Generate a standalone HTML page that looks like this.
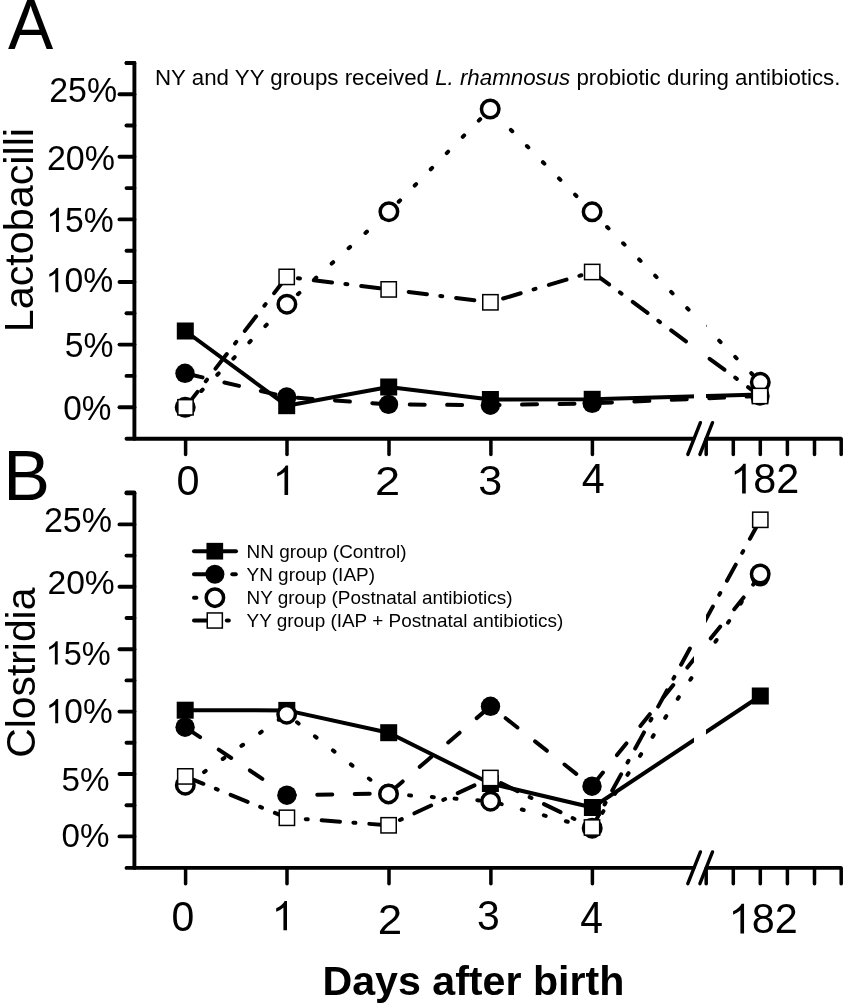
<!DOCTYPE html>
<html><head><meta charset="utf-8"><title>Lactobacilli and Clostridia</title>
<style>
html,body{margin:0;padding:0;background:#fff;}
svg{display:block;will-change:transform;}
text{font-family:"Liberation Sans", sans-serif;fill:#000;}
</style></head>
<body>
<svg width="844" height="1004" viewBox="0 0 844 1004">
<defs><clipPath id="gapclip"><rect x="0" y="0" width="694" height="1004"/><rect x="706" y="0" width="200" height="1004"/></clipPath></defs>
<!--bg-->
<path d="M126.5,63.00 L134.4,63.00 L134.4,438.7" fill="none" stroke="#000" stroke-width="3.9" stroke-linecap="round" stroke-linejoin="round"/>
<line x1="119.5" y1="407.20" x2="134.4" y2="407.20" stroke="#000" stroke-width="3.9" stroke-linecap="round"/>
<line x1="126.5" y1="375.90" x2="134.4" y2="375.90" stroke="#000" stroke-width="3.9" stroke-linecap="round"/>
<line x1="119.5" y1="344.60" x2="134.4" y2="344.60" stroke="#000" stroke-width="3.9" stroke-linecap="round"/>
<line x1="126.5" y1="313.30" x2="134.4" y2="313.30" stroke="#000" stroke-width="3.9" stroke-linecap="round"/>
<line x1="119.5" y1="282.00" x2="134.4" y2="282.00" stroke="#000" stroke-width="3.9" stroke-linecap="round"/>
<line x1="126.5" y1="250.70" x2="134.4" y2="250.70" stroke="#000" stroke-width="3.9" stroke-linecap="round"/>
<line x1="119.5" y1="219.40" x2="134.4" y2="219.40" stroke="#000" stroke-width="3.9" stroke-linecap="round"/>
<line x1="126.5" y1="188.10" x2="134.4" y2="188.10" stroke="#000" stroke-width="3.9" stroke-linecap="round"/>
<line x1="119.5" y1="156.80" x2="134.4" y2="156.80" stroke="#000" stroke-width="3.9" stroke-linecap="round"/>
<line x1="126.5" y1="125.50" x2="134.4" y2="125.50" stroke="#000" stroke-width="3.9" stroke-linecap="round"/>
<line x1="119.5" y1="94.20" x2="134.4" y2="94.20" stroke="#000" stroke-width="3.9" stroke-linecap="round"/>
<line x1="126.5" y1="62.90" x2="134.4" y2="62.90" stroke="#000" stroke-width="3.9" stroke-linecap="round"/>
<line x1="126.5" y1="438.7" x2="693.5" y2="438.7" stroke="#000" stroke-width="3.9" stroke-linecap="round"/>
<line x1="706" y1="438.7" x2="841.5" y2="438.7" stroke="#000" stroke-width="3.9"/>
<line x1="185.6" y1="438.7" x2="185.6" y2="454.5" stroke="#000" stroke-width="3.51" stroke-linecap="round"/>
<line x1="287.0" y1="438.7" x2="287.0" y2="454.5" stroke="#000" stroke-width="3.51" stroke-linecap="round"/>
<line x1="389.0" y1="438.7" x2="389.0" y2="454.5" stroke="#000" stroke-width="3.51" stroke-linecap="round"/>
<line x1="490.9" y1="438.7" x2="490.9" y2="454.5" stroke="#000" stroke-width="3.51" stroke-linecap="round"/>
<line x1="592.4" y1="438.7" x2="592.4" y2="454.5" stroke="#000" stroke-width="3.51" stroke-linecap="round"/>
<line x1="706.2" y1="438.7" x2="706.2" y2="454.5" stroke="#000" stroke-width="3.51" stroke-linecap="round"/>
<line x1="733.3" y1="438.7" x2="733.3" y2="454.5" stroke="#000" stroke-width="3.51" stroke-linecap="round"/>
<line x1="760.3" y1="438.7" x2="760.3" y2="454.5" stroke="#000" stroke-width="3.51" stroke-linecap="round"/>
<line x1="787.4" y1="438.7" x2="787.4" y2="454.5" stroke="#000" stroke-width="3.51" stroke-linecap="round"/>
<line x1="814.5" y1="438.7" x2="814.5" y2="454.5" stroke="#000" stroke-width="3.51" stroke-linecap="round"/>
<line x1="841.2" y1="438.7" x2="841.2" y2="454.5" stroke="#000" stroke-width="3.51" stroke-linecap="round"/>
<line x1="687.8" y1="454.5" x2="700.4" y2="422.7" stroke="#000" stroke-width="3.4" stroke-linecap="round"/>
<line x1="699.9" y1="454.5" x2="712.5" y2="422.7" stroke="#000" stroke-width="3.4" stroke-linecap="round"/>
<text transform="translate(49.20,102.26) scale(1,1.0130)" font-size="33.88" font-weight="normal" font-style="normal" >25%</text>
<text transform="translate(46.89,169.96) scale(1,1.0249)" font-size="34.04" font-weight="normal" font-style="normal" >20%</text>
<path d="M0.3726,0 L0.2847,0 L0.2847,0.5601 Q0.2529,0.5298 0.2012,0.4995 Q0.1494,0.4692 0.1079,0.4541 L0.1079,0.5391 Q0.1816,0.5737 0.2368,0.6230 Q0.2920,0.6724 0.3149,0.7188 L0.3726,0.7188 Z" transform="translate(46.36,232.06) scale(33.694,-33.694)" fill="#000"/>
<text transform="translate(65.10,232.06) scale(1,1.04)" font-size="33.69">5%</text>
<path d="M0.3726,0 L0.2847,0 L0.2847,0.5601 Q0.2529,0.5298 0.2012,0.4995 Q0.1494,0.4692 0.1079,0.4541 L0.1079,0.5391 Q0.1816,0.5737 0.2368,0.6230 Q0.2920,0.6724 0.3149,0.7188 L0.3726,0.7188 Z" transform="translate(45.66,292.16) scale(33.694,-33.694)" fill="#000"/>
<text transform="translate(64.40,292.16) scale(1,1.04)" font-size="33.69">0%</text>
<text transform="translate(64.85,357.45) scale(1,1.0533)" font-size="33.73" font-weight="normal" font-style="normal" >5%</text>
<text transform="translate(63.20,419.56) scale(1,1.0378)" font-size="33.34" font-weight="normal" font-style="normal" >0%</text>
<text transform="translate(176.48,495.48) scale(1,1.0298)" font-size="41.42" font-weight="normal" font-style="normal" >0</text>
<path d="M0.3726,0 L0.2847,0 L0.2847,0.5601 Q0.2529,0.5298 0.2012,0.4995 Q0.1494,0.4692 0.1079,0.4541 L0.1079,0.5391 Q0.1816,0.5737 0.2368,0.6230 Q0.2920,0.6724 0.3149,0.7188 L0.3726,0.7188 Z" transform="translate(272.76,495.10) scale(41.179,-41.179)" fill="#000"/>
<text transform="translate(374.93,495.00) scale(1,0.8963)" font-size="45.22" font-weight="normal" font-style="normal" >2</text>
<text transform="translate(478.16,495.48) scale(1,0.9914)" font-size="43.03" font-weight="normal" font-style="normal" >3</text>
<text transform="translate(581.85,493.20) scale(1,1.0317)" font-size="41.28" font-weight="normal" font-style="normal" >4</text>
<path d="M0.3726,0 L0.2847,0 L0.2847,0.5601 Q0.2529,0.5298 0.2012,0.4995 Q0.1494,0.4692 0.1079,0.4541 L0.1079,0.5391 Q0.1816,0.5737 0.2368,0.6230 Q0.2920,0.6724 0.3149,0.7188 L0.3726,0.7188 Z" transform="translate(730.33,493.48) scale(41.383,-41.383)" fill="#000"/>
<text transform="translate(753.35,493.48) scale(1,1.04)" font-size="41.38">82</text>
<g clip-path="url(#gapclip)">
<path d="M185.00,373.30 L286.70,397.00 L388.50,404.40 L490.40,405.20 L592.20,403.30 L760.00,396.00" fill="none" stroke="#000" stroke-width="4.0" stroke-linecap="round" stroke-linejoin="round" stroke-dasharray="15.0 22.45" stroke-dashoffset="-3.0"/>
<circle cx="185.00" cy="373.30" r="9.7" fill="#000"/>
<circle cx="286.70" cy="397.00" r="9.7" fill="#000"/>
<circle cx="388.50" cy="404.40" r="9.7" fill="#000"/>
<circle cx="490.40" cy="405.20" r="9.7" fill="#000"/>
<circle cx="592.20" cy="403.30" r="9.7" fill="#000"/>
<circle cx="760.00" cy="396.00" r="9.7" fill="#000"/>
<path d="M185.30,331.00 L286.70,405.70 L388.70,387.00 L490.40,399.50 L592.20,399.30 L760.00,394.50" fill="none" stroke="#000" stroke-width="4.0" stroke-linecap="round" stroke-linejoin="round"/>
<rect x="176.80" y="322.50" width="17" height="17" fill="#000"/>
<rect x="278.20" y="397.20" width="17" height="17" fill="#000"/>
<rect x="380.20" y="378.50" width="17" height="17" fill="#000"/>
<rect x="481.90" y="391.00" width="17" height="17" fill="#000"/>
<rect x="583.70" y="390.80" width="17" height="17" fill="#000"/>
<rect x="751.50" y="386.00" width="17" height="17" fill="#000"/>
<path d="M185.20,407.30 L286.90,304.20 L388.90,211.70 L490.20,109.00 L592.10,211.80 L760.30,382.30" fill="none" stroke="#000" stroke-width="4.0" stroke-linecap="round" stroke-linejoin="round" stroke-dasharray="2.0 20.8" stroke-dashoffset="-0.1"/>
<circle cx="185.20" cy="407.30" r="8.75" fill="#fff" stroke="#000" stroke-width="3.5"/>
<circle cx="286.90" cy="304.20" r="8.75" fill="#fff" stroke="#000" stroke-width="3.5"/>
<circle cx="388.90" cy="211.70" r="8.75" fill="#fff" stroke="#000" stroke-width="3.5"/>
<circle cx="490.20" cy="109.00" r="8.75" fill="#fff" stroke="#000" stroke-width="3.5"/>
<circle cx="592.10" cy="211.80" r="8.75" fill="#fff" stroke="#000" stroke-width="3.5"/>
<circle cx="760.30" cy="382.30" r="8.75" fill="#fff" stroke="#000" stroke-width="3.5"/>
<path d="M185.50,407.30 L286.70,276.90 L388.70,289.40 L490.40,302.30 L592.20,272.00 L760.00,396.00" fill="none" stroke="#000" stroke-width="4.0" stroke-linecap="round" stroke-linejoin="round" stroke-dasharray="18.4 13.45 2.0 13.95" stroke-dashoffset="-1.15"/>
<rect x="177.85" y="399.65" width="15.30" height="15.30" fill="#fff" stroke="#000" stroke-width="1.5"/>
<rect x="279.05" y="269.25" width="15.30" height="15.30" fill="#fff" stroke="#000" stroke-width="1.5"/>
<rect x="381.05" y="281.75" width="15.30" height="15.30" fill="#fff" stroke="#000" stroke-width="1.5"/>
<rect x="482.75" y="294.65" width="15.30" height="15.30" fill="#fff" stroke="#000" stroke-width="1.5"/>
<rect x="584.55" y="264.35" width="15.30" height="15.30" fill="#fff" stroke="#000" stroke-width="1.5"/>
<rect x="752.35" y="388.35" width="15.30" height="15.30" fill="#fff" stroke="#000" stroke-width="1.5"/>
</g>
<path d="M126.5,492.50 L134.4,492.50 L134.4,867.9" fill="none" stroke="#000" stroke-width="3.9" stroke-linecap="round" stroke-linejoin="round"/>
<line x1="119.5" y1="836.40" x2="134.4" y2="836.40" stroke="#000" stroke-width="3.9" stroke-linecap="round"/>
<line x1="126.5" y1="805.20" x2="134.4" y2="805.20" stroke="#000" stroke-width="3.9" stroke-linecap="round"/>
<line x1="119.5" y1="774.00" x2="134.4" y2="774.00" stroke="#000" stroke-width="3.9" stroke-linecap="round"/>
<line x1="126.5" y1="742.80" x2="134.4" y2="742.80" stroke="#000" stroke-width="3.9" stroke-linecap="round"/>
<line x1="119.5" y1="711.60" x2="134.4" y2="711.60" stroke="#000" stroke-width="3.9" stroke-linecap="round"/>
<line x1="126.5" y1="680.40" x2="134.4" y2="680.40" stroke="#000" stroke-width="3.9" stroke-linecap="round"/>
<line x1="119.5" y1="649.20" x2="134.4" y2="649.20" stroke="#000" stroke-width="3.9" stroke-linecap="round"/>
<line x1="126.5" y1="618.00" x2="134.4" y2="618.00" stroke="#000" stroke-width="3.9" stroke-linecap="round"/>
<line x1="119.5" y1="586.80" x2="134.4" y2="586.80" stroke="#000" stroke-width="3.9" stroke-linecap="round"/>
<line x1="126.5" y1="555.60" x2="134.4" y2="555.60" stroke="#000" stroke-width="3.9" stroke-linecap="round"/>
<line x1="119.5" y1="524.40" x2="134.4" y2="524.40" stroke="#000" stroke-width="3.9" stroke-linecap="round"/>
<line x1="126.5" y1="493.20" x2="134.4" y2="493.20" stroke="#000" stroke-width="3.9" stroke-linecap="round"/>
<line x1="126.5" y1="867.9" x2="693.5" y2="867.9" stroke="#000" stroke-width="3.9" stroke-linecap="round"/>
<line x1="706" y1="867.9" x2="841.5" y2="867.9" stroke="#000" stroke-width="3.9"/>
<line x1="185.6" y1="867.9" x2="185.6" y2="883.6999999999999" stroke="#000" stroke-width="3.51" stroke-linecap="round"/>
<line x1="287.0" y1="867.9" x2="287.0" y2="883.6999999999999" stroke="#000" stroke-width="3.51" stroke-linecap="round"/>
<line x1="389.0" y1="867.9" x2="389.0" y2="883.6999999999999" stroke="#000" stroke-width="3.51" stroke-linecap="round"/>
<line x1="490.9" y1="867.9" x2="490.9" y2="883.6999999999999" stroke="#000" stroke-width="3.51" stroke-linecap="round"/>
<line x1="592.4" y1="867.9" x2="592.4" y2="883.6999999999999" stroke="#000" stroke-width="3.51" stroke-linecap="round"/>
<line x1="706.2" y1="867.9" x2="706.2" y2="883.6999999999999" stroke="#000" stroke-width="3.51" stroke-linecap="round"/>
<line x1="733.3" y1="867.9" x2="733.3" y2="883.6999999999999" stroke="#000" stroke-width="3.51" stroke-linecap="round"/>
<line x1="760.3" y1="867.9" x2="760.3" y2="883.6999999999999" stroke="#000" stroke-width="3.51" stroke-linecap="round"/>
<line x1="787.4" y1="867.9" x2="787.4" y2="883.6999999999999" stroke="#000" stroke-width="3.51" stroke-linecap="round"/>
<line x1="814.5" y1="867.9" x2="814.5" y2="883.6999999999999" stroke="#000" stroke-width="3.51" stroke-linecap="round"/>
<line x1="841.2" y1="867.9" x2="841.2" y2="883.6999999999999" stroke="#000" stroke-width="3.51" stroke-linecap="round"/>
<line x1="687.8" y1="883.6999999999999" x2="700.4" y2="851.9" stroke="#000" stroke-width="3.4" stroke-linecap="round"/>
<line x1="699.9" y1="883.6999999999999" x2="712.5" y2="851.9" stroke="#000" stroke-width="3.4" stroke-linecap="round"/>
<text transform="translate(43.89,532.26) scale(1,1.0151)" font-size="34.09" font-weight="normal" font-style="normal" >25%</text>
<text transform="translate(47.41,594.07) scale(1,0.9983)" font-size="33.67" font-weight="normal" font-style="normal" >20%</text>
<path d="M0.3726,0 L0.2847,0 L0.2847,0.5601 Q0.2529,0.5298 0.2012,0.4995 Q0.1494,0.4692 0.1079,0.4541 L0.1079,0.5391 Q0.1816,0.5737 0.2368,0.6230 Q0.2920,0.6724 0.3149,0.7188 L0.3726,0.7188 Z" transform="translate(45.59,664.57) scale(32.563,-32.563)" fill="#000"/>
<text transform="translate(63.70,664.57) scale(1,1.04)" font-size="32.56">5%</text>
<path d="M0.3726,0 L0.2847,0 L0.2847,0.5601 Q0.2529,0.5298 0.2012,0.4995 Q0.1494,0.4692 0.1079,0.4541 L0.1079,0.5391 Q0.1816,0.5737 0.2368,0.6230 Q0.2920,0.6724 0.3149,0.7188 L0.3726,0.7188 Z" transform="translate(45.69,723.16) scale(33.478,-33.478)" fill="#000"/>
<text transform="translate(64.31,723.16) scale(1,1.04)" font-size="33.48">0%</text>
<text transform="translate(61.57,790.68) scale(1,0.9925)" font-size="33.22" font-weight="normal" font-style="normal" >5%</text>
<text transform="translate(61.60,846.98) scale(1,0.9956)" font-size="33.20" font-weight="normal" font-style="normal" >0%</text>
<text transform="translate(171.60,931.29) scale(1,1.0334)" font-size="41.00" font-weight="normal" font-style="normal" >0</text>
<path d="M0.3726,0 L0.2847,0 L0.2847,0.5601 Q0.2529,0.5298 0.2012,0.4995 Q0.1494,0.4692 0.1079,0.4541 L0.1079,0.5391 Q0.1816,0.5737 0.2368,0.6230 Q0.2920,0.6724 0.3149,0.7188 L0.3726,0.7188 Z" transform="translate(271.80,930.30) scale(40.801,-40.801)" fill="#000"/>
<text transform="translate(377.79,933.90) scale(1,0.9852)" font-size="43.90" font-weight="normal" font-style="normal" >2</text>
<text transform="translate(477.04,929.78) scale(1,1.0425)" font-size="40.92" font-weight="normal" font-style="normal" >3</text>
<text transform="translate(580.26,933.00) scale(1,1.0844)" font-size="40.88" font-weight="normal" font-style="normal" >4</text>
<path d="M0.3726,0 L0.2847,0 L0.2847,0.5601 Q0.2529,0.5298 0.2012,0.4995 Q0.1494,0.4692 0.1079,0.4541 L0.1079,0.5391 Q0.1816,0.5737 0.2368,0.6230 Q0.2920,0.6724 0.3149,0.7188 L0.3726,0.7188 Z" transform="translate(728.63,933.48) scale(41.383,-41.383)" fill="#000"/>
<text transform="translate(751.65,933.48) scale(1,1.04)" font-size="41.38">82</text>
<g clip-path="url(#gapclip)">
<path d="M185.10,727.20 L286.90,795.20 L388.60,793.50 L490.50,706.30 L592.00,786.20 L760.20,576.80" fill="none" stroke="#000" stroke-width="4.0" stroke-linecap="round" stroke-linejoin="round" stroke-dasharray="15.0 22.45" stroke-dashoffset="-3.0"/>
<circle cx="185.10" cy="727.20" r="9.7" fill="#000"/>
<circle cx="286.90" cy="795.20" r="9.7" fill="#000"/>
<circle cx="388.60" cy="793.50" r="9.7" fill="#000"/>
<circle cx="490.50" cy="706.30" r="9.7" fill="#000"/>
<circle cx="592.00" cy="786.20" r="9.7" fill="#000"/>
<circle cx="760.20" cy="576.80" r="9.7" fill="#000"/>
<path d="M185.20,710.20 L286.80,710.40 L388.70,732.70 L490.40,783.50 L592.40,807.50 L760.30,696.00" fill="none" stroke="#000" stroke-width="4.0" stroke-linecap="round" stroke-linejoin="round"/>
<rect x="176.70" y="701.70" width="17" height="17" fill="#000"/>
<rect x="278.30" y="701.90" width="17" height="17" fill="#000"/>
<rect x="380.20" y="724.20" width="17" height="17" fill="#000"/>
<rect x="481.90" y="775.00" width="17" height="17" fill="#000"/>
<rect x="583.90" y="799.00" width="17" height="17" fill="#000"/>
<rect x="751.80" y="687.50" width="17" height="17" fill="#000"/>
<path d="M185.30,785.20 L286.70,714.20 L388.50,793.90 L490.60,801.20 L592.20,828.20 L760.20,574.00" fill="none" stroke="#000" stroke-width="4.0" stroke-linecap="round" stroke-linejoin="round" stroke-dasharray="2.0 20.8" stroke-dashoffset="-0.1"/>
<circle cx="185.30" cy="785.20" r="8.75" fill="#fff" stroke="#000" stroke-width="3.5"/>
<circle cx="286.70" cy="714.20" r="8.75" fill="#fff" stroke="#000" stroke-width="3.5"/>
<circle cx="388.50" cy="793.90" r="8.75" fill="#fff" stroke="#000" stroke-width="3.5"/>
<circle cx="490.60" cy="801.20" r="8.75" fill="#fff" stroke="#000" stroke-width="3.5"/>
<circle cx="592.20" cy="828.20" r="8.75" fill="#fff" stroke="#000" stroke-width="3.5"/>
<circle cx="760.20" cy="574.00" r="8.75" fill="#fff" stroke="#000" stroke-width="3.5"/>
<path d="M185.30,776.40 L286.90,817.80 L388.60,825.30 L490.40,778.00 L592.00,827.50 L760.30,519.80" fill="none" stroke="#000" stroke-width="4.0" stroke-linecap="round" stroke-linejoin="round" stroke-dasharray="18.4 13.45 2.0 13.95" stroke-dashoffset="-1.15"/>
<rect x="177.65" y="768.75" width="15.30" height="15.30" fill="#fff" stroke="#000" stroke-width="1.5"/>
<rect x="279.25" y="810.15" width="15.30" height="15.30" fill="#fff" stroke="#000" stroke-width="1.5"/>
<rect x="380.95" y="817.65" width="15.30" height="15.30" fill="#fff" stroke="#000" stroke-width="1.5"/>
<rect x="482.75" y="770.35" width="15.30" height="15.30" fill="#fff" stroke="#000" stroke-width="1.5"/>
<rect x="584.35" y="819.85" width="15.30" height="15.30" fill="#fff" stroke="#000" stroke-width="1.5"/>
<rect x="752.65" y="512.15" width="15.30" height="15.30" fill="#fff" stroke="#000" stroke-width="1.5"/>
</g>
<text transform="translate(7.97,49.30) scale(1,1.0345)" font-size="67.86" font-weight="normal" font-style="normal" >A</text>
<text transform="translate(3.25,499.90) scale(1,1.0163)" font-size="70.08" font-weight="normal" font-style="normal" >B</text>
<text transform="translate(32.60,332.19) rotate(-90)" font-size="41.29">Lactobacilli</text>
<text transform="translate(35.20,757.77) rotate(-90)" font-size="40.85">Clostridia</text>
<text x="155.0" y="85.1" font-size="22.3">NY and YY groups received <tspan font-style="italic">L. rhamnosus</tspan> probiotic during antibiotics.</text>
<text x="246.54999999999998" y="557.7" font-size="18.95">NN group (Control)</text>
<text x="246.54999999999998" y="580.6" font-size="18.95">YN group (IAP)</text>
<text x="246.54999999999998" y="603.8" font-size="18.95">NY group (Postnatal antibiotics)</text>
<text x="246.54999999999998" y="626.6" font-size="18.95">YY group (IAP + Postnatal antibiotics)</text>
<line x1="194" y1="551.2" x2="236" y2="551.2" stroke="#000" stroke-width="4" stroke-linecap="round"/>
<rect x="206.45" y="542.85" width="16.7" height="16.7" fill="#000"/>
<line x1="194" y1="574.3" x2="210" y2="574.3" stroke="#000" stroke-width="4" stroke-linecap="round"/>
<line x1="232.3" y1="574.3" x2="235.8" y2="574.3" stroke="#000" stroke-width="4" stroke-linecap="round"/>
<circle cx="214.90" cy="574.30" r="9.5" fill="#000"/>
<line x1="194" y1="597.7" x2="196.4" y2="597.7" stroke="#000" stroke-width="4" stroke-linecap="round"/>
<circle cx="214.90" cy="597.70" r="8.7" fill="#fff" stroke="#000" stroke-width="3.5"/>
<line x1="194" y1="620.5" x2="210" y2="620.5" stroke="#000" stroke-width="4" stroke-linecap="round"/>
<line x1="226.8" y1="620.5" x2="228.8" y2="620.5" stroke="#000" stroke-width="4" stroke-linecap="round"/>
<rect x="207.25" y="612.95" width="15.10" height="15.10" fill="#fff" stroke="#000" stroke-width="1.5"/>
<text x="322.45" y="994.59" font-size="41.17" font-weight="bold" font-style="normal" >Days after birth</text>
</svg>
</body></html>
